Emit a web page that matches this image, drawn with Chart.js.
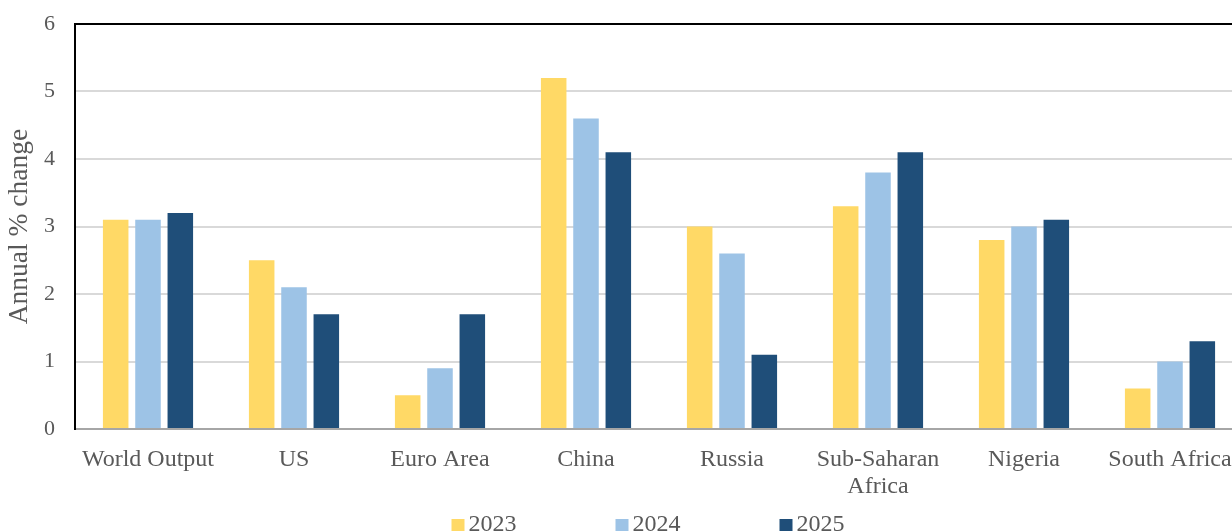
<!DOCTYPE html>
<html>
<head>
<meta charset="utf-8">
<title>Annual % change</title>
<script src="https://cdn.jsdelivr.net/npm/chart.js@4.4.1/dist/chart.umd.min.js"></script>
<style>
  html, body { margin: 0; padding: 0; background: #ffffff; overflow: hidden; }
  #wrap { width: 1296px; height: 545px; }
</style>
</head>
<body>
<div id="wrap"><canvas id="chart" width="1296" height="545"></canvas></div>
<script>
// Growth outlook by economy (annual % change)
const categories = ['World Output', 'US', 'Euro Area', 'China', 'Russia', ['Sub-Saharan', 'Africa'], 'Nigeria', 'South Africa'];
const seriesNames = ['2023', '2024', '2025'];
const values2023 = [3.1, 2.5, 0.5, 5.2, 3.0, 3.3, 2.8, 0.6];
const values2024 = [3.1, 2.1, 0.9, 4.6, 2.6, 3.8, 3.0, 1.0];
const values2025 = [3.2, 1.7, 1.7, 4.1, 1.1, 4.1, 3.1, 1.3];
const yTicks = [0, 1, 2, 3, 4, 5, 6];

const colors = ['#FFD966', '#9DC3E6', '#1F4E79'];
const textColor = '#595959';
const serif = '"Liberation Serif", "Times New Roman", serif';

// Legend row drawn under the category labels
const bottomLegend = {
  id: 'bottomLegend',
  afterDraw(chart) {
    const ctx = chart.ctx;
    const sets = chart.data.datasets;
    const box = 13, gap = 4, pitch = 164;
    ctx.save();
    ctx.font = '24px ' + serif;
    const lastW = ctx.measureText(sets[sets.length - 1].label).width;
    const total = pitch * (sets.length - 1) + box + gap + lastW;
    const x0 = chart.width / 2 - total / 2;
    const baseY = chart.chartArea.bottom + 102;
    sets.forEach((ds, i) => {
      const x = x0 + i * pitch;
      ctx.fillStyle = ds.backgroundColor;
      ctx.fillRect(x, baseY - 12, box, box);
      ctx.fillStyle = textColor;
      ctx.textBaseline = 'alphabetic';
      ctx.textAlign = 'left';
      ctx.fillText(ds.label, x + box + gap, baseY);
    });
    ctx.restore();
  }
};

const datasets = [values2023, values2024, values2025].map((vals, i) => ({
  label: seriesNames[i],
  data: vals,
  backgroundColor: colors[i],
  borderWidth: 0,
  categoryPercentage: 0.664,
  barPercentage: 0.79
}));

new Chart(document.getElementById('chart'), {
  type: 'bar',
  data: { labels: categories, datasets },
  options: {
    responsive: false,
    devicePixelRatio: 1,
    animation: false,
    layout: { padding: { left: 0, right: 53, top: 24, bottom: 0 } },
    plugins: {
      legend: { display: false },
      tooltip: { enabled: false }
    },
    scales: {
      x: {
        position: 'bottom',
        grid: { display: false, drawTicks: false },
        border: { display: true, color: '#A6A6A6', width: 2 },
        ticks: {
          color: textColor,
          font: { family: serif, size: 24, lineHeight: 1.125 },
          padding: 17,
          maxRotation: 0,
          autoSkip: false
        },
        afterFit(scale) { scale.height = 116; }
      },
      xTop: {
        type: 'category',
        position: 'top',
        grid: { display: false, drawTicks: false },
        border: { display: true, color: '#000000', width: 2 },
        ticks: { display: false },
        afterFit(scale) { scale.height = 0; }
      },
      y: {
        min: 0,
        max: 6,
        afterBuildTicks(scale) { scale.ticks = yTicks.map(v => ({ value: v })); },
        grid: {
          drawTicks: true,
          tickLength: 17,
          tickColor: 'rgba(0,0,0,0)',
          lineWidth: 2,
          color: ctx => (ctx.tick && ctx.tick.value === 0 ? 'rgba(0,0,0,0)' : '#D9D9D9')
        },
        border: { display: true, color: '#000000', width: 2 },
        ticks: {
          color: textColor,
          font: { family: serif, size: 22 },
          padding: 3
        },
        title: {
          display: true,
          text: 'Annual % change',
          color: textColor,
          font: { family: serif, size: 27.5 },
          padding: { top: 3, bottom: 4 }
        },
        afterFit(scale) { scale.width = 75; }
      }
    }
  },
  plugins: [bottomLegend]
});
</script>
</body>
</html>
